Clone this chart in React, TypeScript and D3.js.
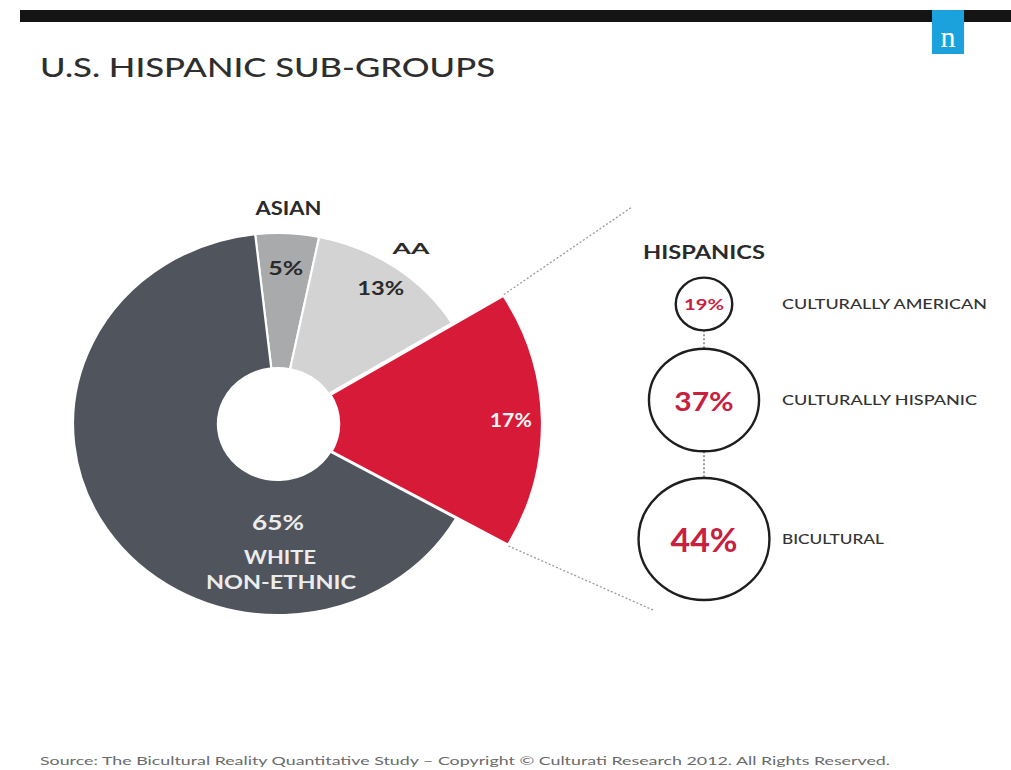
import * as d3 from 'd3';

// 数据
const groups = ['ASIAN', 'AA', 'HISPANIC', 'WHITE NON-ETHNIC'];
const shares = [5, 13, 17, 65];
const sliceColors = ['#a9aaac', '#d3d3d3', '#d71a38', '#50545c'];

const subGroups = ['CULTURALLY AMERICAN', 'CULTURALLY HISPANIC', 'BICULTURAL'];
const subShares = [19, 37, 44];

const title = 'U.S. HISPANIC SUB-GROUPS';
const source =
  'Source: The Bicultural Reality Quantitative Study \u2013 Copyright \u00A9 Culturati Research 2012. All Rights Reserved.';

const W = 1011;
const H = 770;
const font = 'Lato, "Open Sans", sans-serif';

// 图像横向略有拉伸
const SX = 1.073;
const cx = 278;
const cy = 424;
const innerR = 56;
const outerR = 191;
const explodedR = 247;
const deg = Math.PI / 180;

export default function App() {
  const pie = d3
    .pie<number>()
    .sort(null)
    .value((d) => d)
    .startAngle(-6.4 * deg)
    .endAngle((360 - 6.4) * deg);
  const arcs = pie(shares);
  const arc = d3.arc<d3.PieArcDatum<number>>().innerRadius(innerR);

  const hisp = arcs[2];
  const pt = (a: number, r: number) => [cx + SX * r * Math.sin(a), cy - r * Math.cos(a)];
  const mid = (d: d3.PieArcDatum<number>) => (d.startAngle + d.endAngle) / 2;

  const [tx, ty] = pt(hisp.startAngle, explodedR);
  const [bx, by] = pt(hisp.endAngle, explodedR);

  // 右侧圆圈
  const rScale = d3.scaleLinear().domain([0, 44]).range([0, 61]);
  const ccx = 704;
  const circleY = [304, 400, 539];
  const pctSize = d3.scaleLinear().domain([19, 44]).range([15, 32]);
  const pctWidth = d3.scaleLinear().domain([19, 44]).range([40, 67]);

  const nameW = [66, 37];
  const pctW = [35, 47];

  return (
    <svg
      width={W}
      height={H}
      style={{ position: 'absolute', left: 0, top: 0, background: '#fff' }}
      fontFamily={font}
    >
      <rect x={20} y={10} width={W - 20} height={12} fill="#141414" />
      <rect x={932} y={10} width={32} height={44} fill="#1ba2dc" />
      <text x={948} y={47} textAnchor="middle" fontSize={30} fill="#fff" fontFamily='"Liberation Serif", serif'>
        n
      </text>

      <text x={40} y={77} fontSize={26} fontWeight={500} fill="#2e2e2e" textLength={455} lengthAdjust="spacingAndGlyphs">
        {title}
      </text>

      {/* 环形图 */}
      <g transform={`translate(${cx},${cy}) scale(${SX},1)`}>
        {arcs.map((d, i) => (
          <path
            key={groups[i]}
            d={arc.outerRadius(i === 2 ? explodedR : outerR)(d) || ''}
            fill={sliceColors[i]}
            stroke="#fff"
            strokeWidth={i === 2 ? 4 : 2}
          />
        ))}
      </g>

      {/* 引导虚线 */}
      <line x1={tx} y1={ty} x2={632} y2={207} stroke="#9a9a9a" strokeWidth={1.3} strokeDasharray="2,2" />
      <line x1={bx} y1={by} x2={653} y2={610} stroke="#9a9a9a" strokeWidth={1.3} strokeDasharray="2,2" />

      {/* 外部标签 */}
      {[0, 1].map((i) => {
        const [x, y] = pt(mid(arcs[i]), 216);
        return (
          <text key={groups[i]} x={x - nameW[i] / 2} y={y} dominantBaseline="central" fontSize={i === 0 ? 18 : 16} fontWeight={700} fill="#2a2a2a" textLength={nameW[i]} lengthAdjust="spacingAndGlyphs">
            {groups[i]}
          </text>
        );
      })}
      {[0, 1].map((i) => {
        const [x, y] = pt(mid(arcs[i]), i === 0 ? 157 : 167);
        return (
          <text key={'p' + i} x={x - pctW[i] / 2} y={y} dominantBaseline="central" fontSize={19} fontWeight={700} fill="#2a2a2a" textLength={pctW[i]} lengthAdjust="spacingAndGlyphs">
            {shares[i]}%
          </text>
        );
      })}
      {(() => {
        const [x, y] = pt(mid(hisp), 217);
        return (
          <text x={x - 21} y={y} dominantBaseline="central" fontSize={18} fontWeight={700} fill="#f6f6f6" textLength={42} lengthAdjust="spacingAndGlyphs">
            {shares[2]}%
          </text>
        );
      })()}
      {(() => {
        const [x, y] = pt(180 * deg, 97);
        return (
          <g fill="#ececec" fontWeight={700} lengthAdjust="spacingAndGlyphs">
            <text x={x - 26} y={y} dominantBaseline="central" fontSize={21} textLength={52} lengthAdjust="spacingAndGlyphs">
              {shares[3]}%
            </text>
            <text x={x - 34} y={y + 35} dominantBaseline="central" fontSize={19} textLength={72} lengthAdjust="spacingAndGlyphs">
              WHITE
            </text>
            <text x={x - 72} y={y + 60} dominantBaseline="central" fontSize={19} textLength={150} lengthAdjust="spacingAndGlyphs">
              NON-ETHNIC
            </text>
          </g>
        );
      })()}

      {/* 西语裔细分 */}
      <text x={ccx - 61} y={251} dominantBaseline="central" fontSize={19} fontWeight={700} fill="#2a2a2a" textLength={122} lengthAdjust="spacingAndGlyphs">
        HISPANICS
      </text>
      {subGroups.map((g, i) => {
        if (i === 0) return null;
        const y0 = circleY[i - 1] + rScale(subShares[i - 1]);
        const y1 = circleY[i] - rScale(subShares[i]);
        return <line key={'c' + g} x1={ccx} x2={ccx} y1={y0} y2={y1} stroke="#666" strokeWidth={1.3} strokeDasharray="2,2" />;
      })}
      {subGroups.map((g, i) => {
        const y = circleY[i];
        const r = rScale(subShares[i]);
        const pw = pctWidth(subShares[i]);
        return (
          <g key={g}>
            <ellipse cx={ccx} cy={y} rx={r * SX} ry={r} fill="#fff" stroke="#1e1e1e" strokeWidth={2.4} />
            <text x={ccx - pw / 2} y={y} dominantBaseline="central" fontSize={pctSize(subShares[i])} fontWeight={700} fill="#c8203f" textLength={pw} lengthAdjust="spacingAndGlyphs">
              {subShares[i]}%
            </text>
            <text x={782} y={y} dominantBaseline="central" fontSize={13.5} fontWeight={500} fill="#333" textLength={[205, 195, 102][i]} lengthAdjust="spacingAndGlyphs">
              {g}
            </text>
          </g>
        );
      })}

      <text x={40} y={765} fontSize={11.5} fill="#6a6a6a" textLength={850} lengthAdjust="spacingAndGlyphs">
        {source}
      </text>
    </svg>
  );
}
